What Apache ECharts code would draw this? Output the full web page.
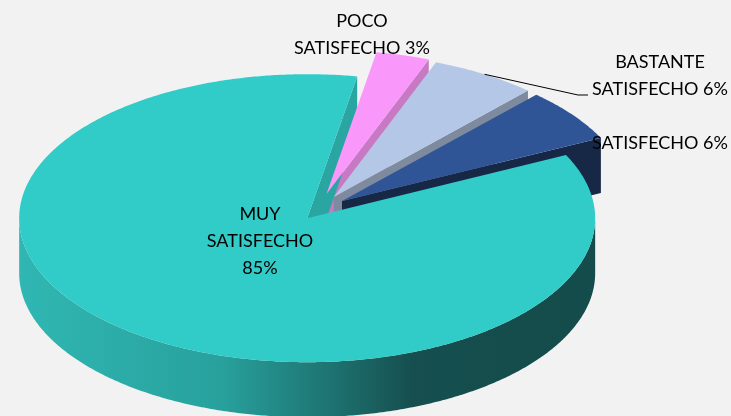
<!DOCTYPE html>
<html>
<head>
<meta charset="utf-8">
<script src="https://cdn.jsdelivr.net/npm/echarts@6/dist/echarts.min.js"></script>
<style>
  html, body { margin: 0; padding: 0; background: #f2f2f2; }
  #chart { width: 731px; height: 416px; }
</style>
</head>
<body>
<div id="chart"></div>
<script>
// data
const categories = ['POCO\nSATISFECHO', 'BASTANTE\nSATISFECHO', 'SATISFECHO', 'MUY\nSATISFECHO'];
const percents = [3, 6, 6, 85];

// look
const topColors = ['#fa97fa', '#b4c7e7', '#2f5597', '#31cbc8'];
const faceColors = ['#c779c3', '#7e8a9e', '#172847', '#2aa6a2'];
const wallColors = ['#c779c3', '#7e8a9e', '#172847', null];
const labelSep = [' ', ' ', ' ', '\n'];
const labelPos = [[362, 35], [660, 76], [660, 143], [260, 241]];
const leaderTo = [null, [[578, 95], [588, 95]], null, null];

// pie geometry (pseudo 3d, tilted ellipse)
const CX = 318, CY = 211, RX = 288, RY = 144, DEPTH = 55, START = 10;
const explodeDist = [32, 30, 30, 18];
const explodeY = [0.55, 0.55, 0.55, 0.5];

const total = percents.reduce((a, b) => a + b, 0);
const rad = d => d * Math.PI / 180;

function rim(phi, off, dy) {
  const a = rad(phi);
  return [CX + off[0] + RX * Math.sin(a), CY + off[1] - RY * Math.cos(a) + (dy || 0)];
}
function arc(a0, a1, off, dy) {
  const pts = [];
  const n = Math.max(2, Math.ceil(Math.abs(a1 - a0) * 2));
  for (let k = 0; k <= n; k++) pts.push(rim(a0 + (a1 - a0) * k / n, off, dy));
  return pts;
}
function meanY(pts) {
  return pts.reduce((s, p) => s + p[1], 0) / pts.length;
}

function renderItem(params, api) {
  const i = params.dataIndex;
  const v = api.value(0);
  let cum = 0;
  for (let k = 0; k < i; k++) cum += percents[k];
  const s = START + 360 * cum / total;
  const e = s + 360 * v / total;
  const mid = (s + e) / 2;
  const off = [explodeDist[i] * Math.sin(rad(mid)), -explodeDist[i] * explodeY[i] * Math.cos(rad(mid))];
  const c = [CX + off[0], CY + off[1]];
  const cd = [c[0], c[1] + DEPTH];
  const children = [];

  // radial faces
  if (Math.sin(rad(e)) > 0) {
    const r = rim(e, off), rd = rim(e, off, DEPTH);
    children.push({ type: 'polygon', shape: { points: [c, r, rd, cd] }, style: { fill: faceColors[i] }, z2: meanY([c, r]) });
  }
  if (Math.sin(rad(s)) < 0) {
    const r = rim(s, off), rd = rim(s, off, DEPTH);
    children.push({ type: 'polygon', shape: { points: [c, r, rd, cd] }, style: { fill: faceColors[i] }, z2: meanY([c, r]) });
  }
  // outer wall, front half only
  for (let k = 0; k < 2; k++) {
    const lo = Math.max(s, 90 + 360 * k), hi = Math.min(e, 270 + 360 * k);
    if (hi <= lo) continue;
    const top = arc(lo, hi, off, 0);
    const bot = arc(hi, lo, off, DEPTH);
    const fill = wallColors[i] || new echarts.graphic.LinearGradient(0, 0, 1, 0, [
      { offset: 0, color: '#30b7b3' },
      { offset: 0.35, color: '#28a19d' },
      { offset: 0.55, color: '#1d716e' },
      { offset: 0.68, color: '#164f4f' },
      { offset: 1, color: '#144b4b' }
    ]);
    children.push({ type: 'polygon', shape: { points: top.concat(bot) }, style: { fill: fill }, z2: 500 + meanY(top) });
  }
  // top
  children.push({ type: 'polygon', shape: { points: [c].concat(arc(s, e, off, 0)) }, style: { fill: topColors[i] }, z2: 1000 });

  // label
  children.push({
    type: 'text', z2: 2000,
    style: {
      text: categories[i] + labelSep[i] + v + '%',
      x: labelPos[i][0], y: labelPos[i][1],
      align: 'center', verticalAlign: 'middle',
      font: '18px Lato', lineHeight: 27, fill: '#000'
    }
  });
  if (leaderTo[i]) {
    children.push({
      type: 'polyline', z2: 2000,
      shape: { points: [rim(mid, off)].concat(leaderTo[i]) },
      style: { stroke: '#000', lineWidth: 1, fill: null }
    });
  }
  return { type: 'group', children: children };
}

const chart = echarts.init(document.getElementById('chart'));
chart.setOption({
  backgroundColor: '#f2f2f2',
  animation: false,
  series: [{
    type: 'custom',
    coordinateSystem: 'none',
    renderItem: renderItem,
    data: percents.map((v, i) => ({ name: categories[i], value: [v] }))
  }]
});
</script>
</body>
</html>
